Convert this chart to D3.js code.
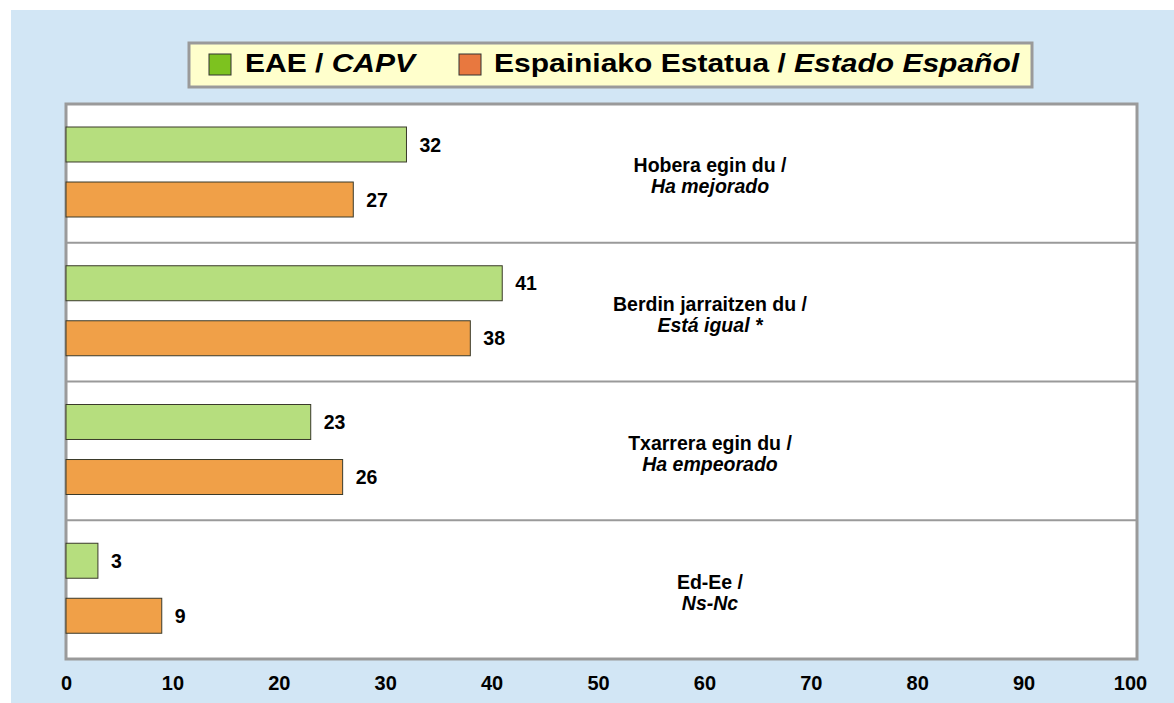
<!DOCTYPE html>
<html>
<head>
<meta charset="utf-8">
<script src="https://cdn.jsdelivr.net/npm/d3@7"></script>
<style>
    body { margin: 0; background: #ffffff; }
    svg text { font-family: "Liberation Sans", Arial, sans-serif; font-weight: bold; fill: #000; }
</style>
</head>
<body>
<div id="main"></div>
<script>
// categories (basque line / spanish line), top to bottom
var categories = ["hobera", "berdin", "txarrera", "ed"];
var labelsEu = ["Hobera egin du /", "Berdin jarraitzen du /", "Txarrera egin du /", "Ed-Ee /"];
var labelsEs = ["Ha mejorado", "Está igual *", "Ha empeorado", "Ns-Nc"];

// series
var series = ["eae", "estado"];
var eaeValues = [32, 41, 23, 3];
var estadoValues = [27, 38, 26, 9];

var xTicks = [0, 10, 20, 30, 40, 50, 60, 70, 80, 90, 100];

var ctx = {
    w: 1174,
    h: 703,
};

var createViz = function () {
    var svg = d3.select("#main").append("svg")
        .attr("width", ctx.w)
        .attr("height", ctx.h);

    // light blue background panel
    svg.append("rect")
        .attr("x", 11).attr("y", 10)
        .attr("width", ctx.w - 11).attr("height", ctx.h - 10)
        .attr("fill", "#d2e6f5");

    var x = d3.scaleLinear().domain([0, 100]).range([66, 1130]);
    var y0 = d3.scaleBand().domain(categories).range([104, 659]);
    var y1 = d3.scaleBand().domain(series).range([23, 113]).paddingInner(0.364);
    var color = d3.scaleOrdinal().domain(series).range(["#b6de7e", "#f0a048"]);

    // plot area
    svg.append("rect")
        .attr("x", 66).attr("y", 104)
        .attr("width", 1071).attr("height", 555)
        .attr("fill", "#ffffff")
        .attr("stroke", "#9a9a9a")
        .attr("stroke-width", 3);

    // separators between categories
    svg.append("g")
        .selectAll("line")
        .data(categories.slice(1))
        .enter()
        .append("line")
        .attr("x1", 66).attr("x2", 1137)
        .attr("y1", function (d) { return y0(d); })
        .attr("y2", function (d) { return y0(d); })
        .attr("stroke", "#9a9a9a")
        .attr("stroke-width", 2);

    var rows = [];
    categories.forEach(function (c, i) {
        rows.push({ cat: c, s: "eae", v: eaeValues[i] });
        rows.push({ cat: c, s: "estado", v: estadoValues[i] });
    });

    svg.append("g")
        .selectAll("rect")
        .data(rows)
        .enter()
        .append("rect")
        .attr("x", x(0))
        .attr("y", function (d) { return y0(d.cat) + y1(d.s); })
        .attr("width", function (d) { return x(d.v) - x(0); })
        .attr("height", y1.bandwidth())
        .attr("fill", function (d) { return color(d.s); })
        .attr("stroke", "#3a3a2a")
        .attr("stroke-width", 1);

    svg.append("g")
        .selectAll("text")
        .data(rows)
        .enter()
        .append("text")
        .attr("x", function (d) { return x(d.v) + 13; })
        .attr("y", function (d) { return y0(d.cat) + y1(d.s) + y1.bandwidth() / 2; })
        .attr("dy", "0.36em")
        .style("font-size", "19.5px")
        .text(function (d) { return d.v; });

    // category labels
    var catLabels = svg.append("g")
        .selectAll("text")
        .data(categories)
        .enter()
        .append("text")
        .attr("text-anchor", "middle")
        .style("font-size", "19.5px");
    catLabels.append("tspan")
        .attr("x", 710)
        .attr("y", function (d) { return y0(d) + y0.bandwidth() / 2 - 1; })
        .text(function (d, i) { return labelsEu[i]; });
    catLabels.append("tspan")
        .attr("x", 710)
        .attr("y", function (d) { return y0(d) + y0.bandwidth() / 2 + 20; })
        .style("font-style", "italic")
        .text(function (d, i) { return labelsEs[i]; });

    // x axis labels
    var axis = svg.append("g")
        .attr("transform", "translate(0,659)")
        .call(d3.axisBottom(x).tickValues(xTicks).tickSize(0).tickPadding(17));
    axis.select(".domain").remove();
    axis.selectAll("text")
        .style("font-size", "20px")
        .style("font-family", "\"Liberation Sans\", Arial, sans-serif")
        .style("font-weight", "bold")
        .attr("fill", "#000");

    // legend
    var legend = svg.append("g");
    legend.append("rect")
        .attr("x", 189).attr("y", 43)
        .attr("width", 843).attr("height", 44)
        .attr("fill", "#ffffcc")
        .attr("stroke", "#9a9a9a")
        .attr("stroke-width", 3);

    var legendItems = [
        { s: "eae", sx: 209, tx: 245, eu: "EAE / ", es: "CAPV", fill: "#7dc21f" },
        { s: "estado", sx: 459, tx: 494, eu: "Espainiako Estatua / ", es: "Estado Español", fill: "#e8783f" },
    ];
    legend.selectAll("rect.sw")
        .data(legendItems)
        .enter()
        .append("rect")
        .attr("class", "sw")
        .attr("x", function (d) { return d.sx; })
        .attr("y", 54)
        .attr("width", 22).attr("height", 21)
        .attr("fill", function (d) { return d.fill; })
        .attr("stroke", "#333333")
        .attr("stroke-width", 1);

    var lt = legend.selectAll("g.lt")
        .data(legendItems)
        .enter()
        .append("g")
        .attr("class", "lt")
        .attr("transform", function (d) { return "translate(" + d.tx + ",72) scale(1.2,1)"; })
        .append("text")
        .style("font-size", "25px");
    lt.append("tspan").text(function (d) { return d.eu; });
    lt.append("tspan").style("font-style", "italic").text(function (d) { return d.es; });
};

createViz();
</script>
</body>
</html>
